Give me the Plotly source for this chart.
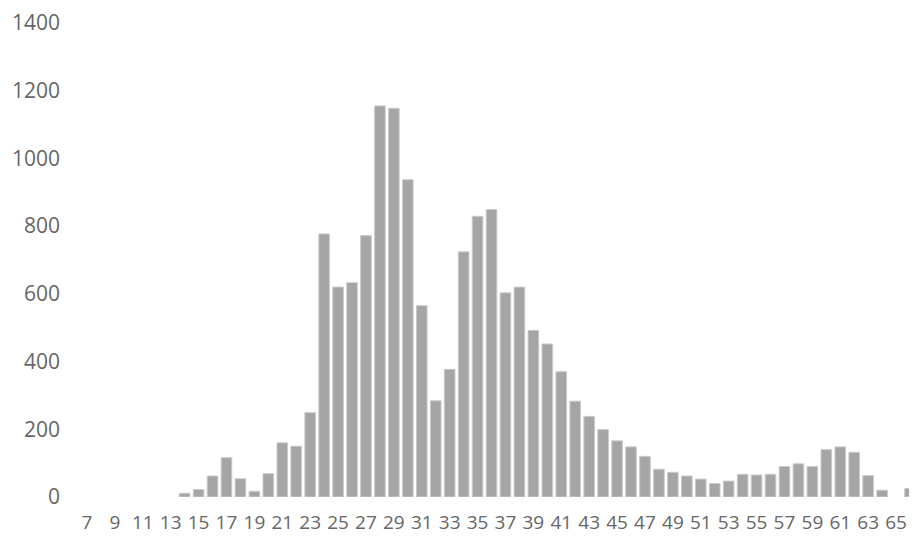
import plotly.graph_objects as go

categories = list(range(7, 67))
values = [
    0, 0, 0, 0, 0, 0, 0,            # 7-13
    11, 22, 62, 116, 54, 17, 69,     # 14-20
    160, 150, 249, 777, 620, 633, 772,  # 21-27
    1155, 1148, 937, 565, 284, 377, 724,  # 28-34
    829, 849, 603, 620, 492, 452, 370,  # 35-41
    283, 238, 199, 166, 148, 120, 82,  # 42-48
    73, 62, 53, 40, 47, 67, 65,  # 49-55
    67, 90, 98, 90, 140, 148, 132,  # 56-62
    63, 20, 0, 25,  # 63-66
]
x_tick_values = list(range(7, 66, 2))
x_tick_labels = [str(v) for v in x_tick_values]
y_tick_values = list(range(0, 1401, 200))

# no outline on empty categories
outline_widths = [1 if v > 0 else 0 for v in values]

fig = go.Figure(
    go.Bar(
        x=categories,
        y=values,
        marker=dict(color="#A5A5A5", line=dict(color="#CACACA", width=outline_widths)),
        hoverinfo="x+y",
    )
)

# page body has an 8px margin; size the figure so it ends at the window edge
fig.update_layout(
    width=909,
    height=529,
    margin=dict(l=72, r=0, t=11, b=40),
    paper_bgcolor="white",
    plot_bgcolor="white",
    bargap=0.24,
    showlegend=False,
    font=dict(family="Open Sans", color="#666666"),
)
fig.update_xaxes(
    type="linear",
    range=[6.5, 66.5],
    tickmode="array",
    tickvals=x_tick_values,
    ticktext=x_tick_labels,
    showgrid=False,
    zeroline=False,
    showline=False,
    ticks="",
    tickfont=dict(size=19, color="#666666"),
    ticklabelstandoff=12,
    ticklabeloverflow="allow",
)
fig.update_yaxes(
    range=[0, 1400],
    tickmode="array",
    tickvals=y_tick_values,
    showgrid=False,
    zeroline=False,
    showline=False,
    ticks="",
    tickfont=dict(size=21, color="#666666"),
    ticklabelstandoff=19,
    ticklabeloverflow="allow",
)

fig.write_html("out.html")
